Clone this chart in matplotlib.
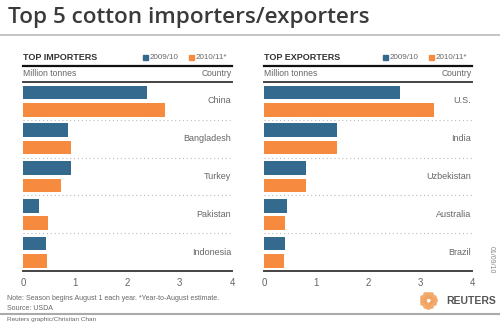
import matplotlib
matplotlib.use("Agg")
import matplotlib.pyplot as plt
import numpy as np
from matplotlib.patches import Rectangle
from matplotlib.lines import Line2D

imp_countries = ["China", "Bangladesh", "Turkey", "Pakistan", "Indonesia"]
imp_2009 = [2.37, 0.86, 0.92, 0.31, 0.44]
imp_2010 = [2.71, 0.91, 0.72, 0.48, 0.46]

exp_countries = ["U.S.", "India", "Uzbekistan", "Australia", "Brazil"]
exp_2009 = [2.61, 1.41, 0.80, 0.44, 0.40]
exp_2010 = [3.27, 1.40, 0.81, 0.41, 0.38]

series_labels = ["2009/10", "2010/11*"]
xticks = [0, 1, 2, 3, 4]

BLUE = "#336a8e"
ORANGE = "#f68b40"
DARK = "#333333"
GRAY = "#666666"

W, H = 500, 324
fig = plt.figure(figsize=(W/100, H/100), dpi=100)
plt.rcParams['font.family'] = ['Liberation Sans', 'DejaVu Sans']

def fx(x): return x / W
def fy(y): return 1 - y / H

# title
fig.text(fx(8), fy(17), "Top 5 cotton importers/exporters", fontsize=16.2, fontweight=600,
         family=['Open Sans', 'DejaVu Sans'], color="#3a3a3a", va="center", ha="left")
fig.add_artist(Line2D([0, 1], [fy(35), fy(35)], color="#bbbbbb", lw=1.2))

def panel(x0, x1, title, countries, v1, v2):
    ax = fig.add_axes([fx(x0), fy(271), fx(x1) - fx(x0), (271 - 82) / H])
    n = len(countries)
    y = np.arange(n)
    ax.barh(y - 0.225, v1, height=0.36, color=BLUE)
    ax.barh(y + 0.235, v2, height=0.36, color=ORANGE)
    ax.set_xlim(0, 4)
    ax.set_ylim(n - 0.5, -0.5)
    for i, c in enumerate(countries):
        ax.text(3.98, i, c, ha="right", va="center", fontsize=6.5, color=GRAY)
    for i in range(n - 1):
        ax.axhline(i + 0.5, color="#bbbbbb", lw=0.8, ls=(0, (1, 2.5)))
    ax.set_xticks(xticks)
    ax.set_xticklabels([str(t) for t in xticks], fontsize=7, color=GRAY)
    ax.tick_params(axis="x", length=0, pad=5)
    ax.set_yticks([])
    for s in ["left", "right"]:
        ax.spines[s].set_visible(False)
    ax.spines["top"].set_color("#444444")
    ax.spines["top"].set_linewidth(1.4)
    ax.spines["bottom"].set_color("#444444")
    ax.spines["bottom"].set_linewidth(1.4)
    # header
    fig.text(fx(x0), fy(57), title, fontsize=6.5, fontweight="bold", color=DARK,
             va="center", ha="left")
    fig.add_artist(Line2D([fx(x0), fx(x1)], [fy(65.5), fy(65.5)], color="#111111", lw=1.6))
    fig.text(fx(x0), fy(73.5), "Million tonnes", fontsize=6.2, color=GRAY, va="center", ha="left")
    fig.text(fx(x1), fy(73.5), "Country", fontsize=6.2, color=GRAY, va="center", ha="right")
    # legend
    lx = x1 - 89
    fig.add_artist(Rectangle((fx(lx), fy(60)), fx(5), 5 / H, color=BLUE))
    fig.text(fx(lx + 6.5), fy(57.3), series_labels[0], fontsize=5.8, color=GRAY, va="center", ha="left")
    fig.add_artist(Rectangle((fx(lx + 46), fy(60)), fx(5), 5 / H, color=ORANGE))
    fig.text(fx(lx + 52.5), fy(57.3), series_labels[1], fontsize=5.8, color=GRAY, va="center", ha="left")
    return ax

panel(23, 232, "TOP IMPORTERS", imp_countries, imp_2009, imp_2010)
panel(264, 472, "TOP EXPORTERS", exp_countries, exp_2009, exp_2010)

# side date
fig.text(fx(491), fy(260), "01/09/10", rotation=270, fontsize=5, color="#888888",
         va="center", ha="center")

# footer
fig.text(fx(7), fy(299), "Note: Season begins August 1 each year. *Year-to-August estimate.",
         fontsize=5, color=GRAY, va="center", ha="left")
fig.text(fx(7), fy(308.5), "Source: USDA", fontsize=5, color=GRAY, va="center", ha="left")
fig.add_artist(Line2D([0, 1], [fy(314), fy(314)], color="#aaaaaa", lw=1.5))
fig.text(fx(7), fy(320), "Reuters graphic/Christian Chan", fontsize=4.6, color=GRAY,
         va="center", ha="left")

# Reuters logo
cx, cy = 428, 300
ang = np.linspace(0, 2 * np.pi, 12, endpoint=False)
for r, s in [(6.5, 5), (3.5, 3)]:
    fig.add_artist(Line2D(fx(cx + r * np.cos(ang)), fy(cy + r * np.sin(ang)),
                          ls="none", marker="o", ms=s / 2, color="#f2a15e", alpha=0.8))
fig.text(fx(496), fy(300.5), "REUTERS", fontsize=7.5, fontweight="bold", color="#555555",
         va="center", ha="right")

fig.savefig("out.png", dpi=100)
